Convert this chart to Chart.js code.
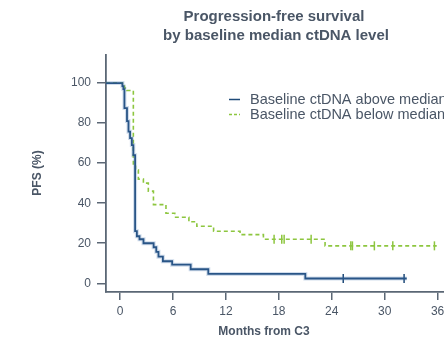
<!DOCTYPE html>
<html>
<head>
<meta charset="utf-8">
<script src="https://cdn.jsdelivr.net/npm/chart.js@4.4.0/dist/chart.umd.min.js"></script>
<style>
    html, body { margin: 0; padding: 0; background: #fff; overflow: hidden; }
    canvas { display: block; }
</style>
</head>
<body>
<canvas id="pfs-chart" width="470" height="340"></canvas>
<script>
// Kaplan-Meier steps (months, PFS %); curves start at the axis
const aboveMonths = [-1.6, 0.26, 0.37, 0.49, 0.78, 0.95, 1.13, 1.33, 1.5, 1.7, 1.9, 2.2, 2.65, 3.8, 4.1, 4.35, 4.85, 5.9, 8.0, 10.0, 21.0, 32.5]
const aboveSurv = [100, 98.5, 97, 87.5, 81, 75.7, 72.5, 69, 64, 26, 23.5, 22, 20, 18, 15.7, 13.3, 11, 9.3, 7, 4.7, 2.4, 2.4]
const aboveCensorMonths = [25.3, 32.2]
const aboveCensorSurv = [2.4, 2.4]

const belowMonths = [-1.6, 0.26, 0.5, 0.76, 1.5, 1.75, 2.07, 2.64, 3.2, 3.78, 5.2, 6.2, 7.8, 8.7, 10.6, 13.6, 16.25, 23.24, 35.9]
const belowSurv = [100, 98.5, 97.5, 96.3, 59, 56.5, 52, 50, 46, 39.3, 35, 33, 30.7, 28.5, 26, 24.3, 22, 18.7, 18.7]
const belowCensorMonths = [17.46, 18.33, 18.6, 21.66, 26.16, 26.34, 28.83, 30.92, 35.64]
const belowCensorSurv = [22, 22, 22, 22, 18.7, 18.7, 18.7, 18.7, 18.7]

const xTicks = [0, 6, 12, 18, 24, 30, 36]
const yTicks = [0, 20, 40, 60, 80, 100]
const titleLines = ['Progression-free survival', 'by baseline median ctDNA level']
const seriesNames = ['Baseline ctDNA above median', 'Baseline ctDNA below median']
const xTitle = 'Months from C3'
const yTitle = 'PFS (%)'

const BLUE = '#1f4a78'
const GREEN = '#8dc63f'
const TEXT = '#4a5666'
const AXIS = '#5b6775'
const FONT = '"Liberation Sans", Arial, sans-serif'

const toPoints = (xs, ys) => xs.map((x, i) => ({ x, y: ys[i] }))

// title, axis titles and legend drawn on the canvas
const textPlugin = {
    id: 'textPlugin',
    afterDraw(chart) {
        const ctx = chart.ctx
        ctx.save()
        ctx.fillStyle = TEXT
        ctx.textAlign = 'center'
        ctx.textBaseline = 'middle'
        ctx.font = `bold 15px ${FONT}`
        ctx.fillText(titleLines[0], 274, 17)
        ctx.fillText(titleLines[1], 276, 36)

        ctx.font = `bold 12px ${FONT}`
        ctx.fillText(xTitle, 264, 332)
        ctx.translate(38, 173)
        ctx.rotate(-Math.PI / 2)
        ctx.fillText(yTitle, 0, 0)
        ctx.restore()

        ctx.save()
        ctx.font = `14.5px ${FONT}`
        ctx.fillStyle = TEXT
        ctx.textAlign = 'left'
        ctx.textBaseline = 'middle'
        const rows = [
            { color: BLUE, dash: [], y: 99.5 },
            { color: GREEN, dash: [3, 2], y: 114.5 }
        ]
        rows.forEach((row, i) => {
            ctx.beginPath()
            ctx.setLineDash(row.dash)
            ctx.strokeStyle = row.color
            ctx.lineWidth = 1.5
            ctx.moveTo(229, row.y)
            ctx.lineTo(240, row.y)
            ctx.stroke()
            ctx.fillText(seriesNames[i], 250, row.y + 0.5)
        })
        ctx.restore()
    }
}

const chart = new Chart(document.querySelector('#pfs-chart'), {
    type: 'line',
    data: {
        datasets: [
            {
                label: 'above halo',
                data: toPoints(aboveMonths, aboveSurv),
                stepped: 'before',
                borderColor: 'rgba(70, 120, 180, 0.25)',
                borderWidth: 4,
                pointRadius: 0
            },
            {
                label: seriesNames[0],
                data: toPoints(aboveMonths, aboveSurv),
                stepped: 'before',
                borderColor: BLUE,
                borderWidth: 1.8,
                pointRadius: 0
            },
            {
                label: seriesNames[1],
                data: toPoints(belowMonths, belowSurv),
                stepped: 'before',
                borderColor: GREEN,
                borderWidth: 1.6,
                borderDash: [4, 3],
                pointRadius: 0
            },
            {
                label: 'above censored',
                data: toPoints(aboveCensorMonths, aboveCensorSurv),
                showLine: false,
                pointStyle: 'line',
                rotation: 90,
                pointRadius: 4.5,
                borderColor: BLUE,
                borderWidth: 1.5
            },
            {
                label: 'below censored',
                data: toPoints(belowCensorMonths, belowCensorSurv),
                showLine: false,
                pointStyle: 'line',
                rotation: 90,
                pointRadius: 4.5,
                borderColor: GREEN,
                borderWidth: 1.5
            }
        ]
    },
    options: {
        responsive: false,
        animation: false,
        layout: { padding: { top: 55, right: 10, left: 0, bottom: 0 } },
        plugins: {
            legend: { display: false },
            title: { display: false },
            tooltip: { enabled: false }
        },
        scales: {
            x: {
                type: 'linear',
                min: -1.6,
                max: 38.54,
                afterFit: scale => { scale.height = 48 },
                afterBuildTicks: scale => { scale.ticks = xTicks.map(value => ({ value })) },
                grid: { drawOnChartArea: false, drawTicks: true, tickLength: 8, color: AXIS, lineWidth: 1.5 },
                border: { display: true, color: AXIS, width: 1.8 },
                ticks: { color: TEXT, font: { size: 12, family: FONT }, padding: 4, maxRotation: 0 }
            },
            y: {
                min: -4.35,
                max: 114,
                afterFit: scale => { scale.width = 106 },
                afterBuildTicks: scale => { scale.ticks = yTicks.map(value => ({ value })) },
                grid: { drawOnChartArea: false, drawTicks: true, tickLength: 9, color: AXIS, lineWidth: 1.5 },
                border: { display: true, color: AXIS, width: 1.8 },
                ticks: { color: TEXT, font: { size: 12, family: FONT }, padding: 6 }
            }
        }
    },
    plugins: [textPlugin]
})
</script>
</body>
</html>
